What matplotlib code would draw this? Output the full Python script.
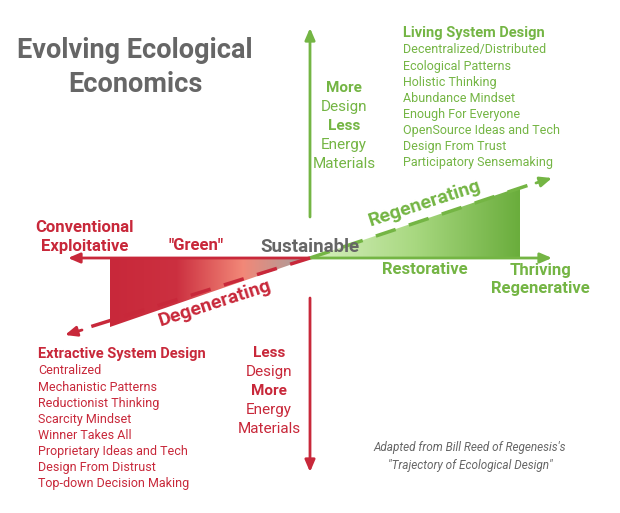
import numpy as np
import matplotlib.pyplot as plt
from matplotlib.colors import LinearSegmentedColormap
from matplotlib.patches import Polygon

plt.rcParams['font.family'] = ['Roboto', 'DejaVu Sans']

GREEN = "#74b544"
RED = "#c8283a"
GRAY = "#666666"

living_items = ["Decentralized/Distributed", "Ecological Patterns", "Holistic Thinking",
                "Abundance Mindset", "Enough For Everyone", "OpenSource Ideas and Tech",
                "Design From Trust", "Participatory Sensemaking"]
extractive_items = ["Centralized", "Mechanistic Patterns", "Reductionist Thinking",
                    "Scarcity Mindset", "Winner Takes All", "Proprietary Ideas and Tech",
                    "Design From Distrust", "Top-down Decision Making"]
up_words = [("More", True), ("Design", False), ("Less", True), ("Energy", False), ("Materials", False)]
down_words = [("Less", True), ("Design", False), ("More", True), ("Energy", False), ("Materials", False)]

cx, cy = 310, 258
green_tri = [(cx, cy), (520, cy), (520, 187)]
red_tri = [(cx, cy), (110, cy), (110, 327)]

fig = plt.figure(figsize=(6.2, 5.13), dpi=100)
ax = fig.add_axes([0, 0, 1, 1])
ax.set_xlim(0, 620)
ax.set_ylim(513, 0)
ax.axis('off')

# gradient triangles
gcmap = LinearSegmentedColormap.from_list("g", ["#d8f0c0", "#a8d880", "#6aad3c"])
rcmap = LinearSegmentedColormap.from_list("r", ["#c8283a", "#cc3040", "#f28878", "#a0a0a0"])
grad = np.linspace(0, 1, 256).reshape(1, -1)
for tri, cmap, x0, x1, y0, y1 in [(green_tri, gcmap, cx, 520, 187, cy),
                                  (red_tri, rcmap, 110, cx, cy, 327)]:
    im = ax.imshow(grad, cmap=cmap, extent=(x0, x1, y1, y0), aspect='auto', zorder=1)
    poly = Polygon(tri, closed=True, facecolor='none', edgecolor='none')
    ax.add_patch(poly)
    im.set_clip_path(poly)

def arrow(x0, y0, x1, y1, color, ls='-'):
    ax.annotate("", xy=(x1, y1), xytext=(x0, y0), zorder=3,
                arrowprops=dict(arrowstyle="-|>,head_length=0.7,head_width=0.3",
                                color=color, lw=2, linestyle=ls, shrinkA=0, shrinkB=0))

arrow(cx, cy, 552, cy, GREEN)
arrow(cx, cy, 68, cy, RED)
arrow(cx, 217, cx, 28, GREEN)
arrow(cx, 298, cx, 472, RED)
ax.plot([cx, 538], [cy, 182], color=GREEN, lw=2.5, dashes=(6, 4), zorder=3)
arrow(536, 183, 552, 178, GREEN)
ax.plot([cx, 80], [cy, 330], color=RED, lw=2.5, dashes=(6, 4), zorder=3)
arrow(82, 330, 65, 335, RED)

# title
ax.text(135, 50, "Evolving Ecological", ha='center', va='center', fontsize=19.5, fontweight='bold', color=GRAY)
ax.text(135, 84, "Economics", ha='center', va='center', fontsize=19.5, fontweight='bold', color=GRAY)

# axis labels
ax.text(85, 228, "Conventional", ha='center', va='center', fontsize=12, fontweight='bold', color=RED)
ax.text(85, 247, "Exploitative", ha='center', va='center', fontsize=12, fontweight='bold', color=RED)
ax.text(196, 245, '"Green"', ha='center', va='center', fontsize=12, fontweight='bold', color=RED)
ax.text(310, 247, "Sustainable", ha='center', va='center', fontsize=13.5, fontweight='bold', color=GRAY, zorder=4)
ax.text(425, 270, "Restorative", ha='center', va='center', fontsize=12, fontweight='bold', color=GREEN)
ax.text(540, 270, "Thriving", ha='center', va='center', fontsize=12, fontweight='bold', color=GREEN)
ax.text(540, 289, "Regenerative", ha='center', va='center', fontsize=12, fontweight='bold', color=GREEN)
ax.text(425, 203, "Regenerating", ha='center', va='center', fontsize=14, fontweight='bold',
        color=GREEN, rotation=18, zorder=4)
ax.text(215, 303, "Degenerating", ha='center', va='center', fontsize=14, fontweight='bold',
        color=RED, rotation=18, zorder=4)

# vertical axis words
for i, (w, b) in enumerate(up_words):
    ax.text(344, 88 + i * 19, w, ha='center', va='center', fontsize=11,
            fontweight='bold' if b else 'normal', color=GREEN)
for i, (w, b) in enumerate(down_words):
    ax.text(269, 353 + i * 19, w, ha='center', va='center', fontsize=11,
            fontweight='bold' if b else 'normal', color=RED)

# lists
ax.text(403, 33, "Living System Design", ha='left', va='center', fontsize=10.5, fontweight='bold', color=GREEN)
for i, t in enumerate(living_items):
    ax.text(403, 50 + i * 16.1, t, ha='left', va='center', fontsize=9, color=GREEN)
ax.text(38, 354, "Extractive System Design", ha='left', va='center', fontsize=10.5, fontweight='bold', color=RED)
for i, t in enumerate(extractive_items):
    ax.text(38, 371 + i * 16.1, t, ha='left', va='center', fontsize=9, color=RED)

ax.text(470, 448, "Adapted from Bill Reed of Regenesis's", ha='center', va='center',
        fontsize=8.5, style='italic', color=GRAY)
ax.text(470, 465, '"Trajectory of Ecological Design"', ha='center', va='center',
        fontsize=8.5, style='italic', color=GRAY)

fig.savefig("out.png", dpi=100)
